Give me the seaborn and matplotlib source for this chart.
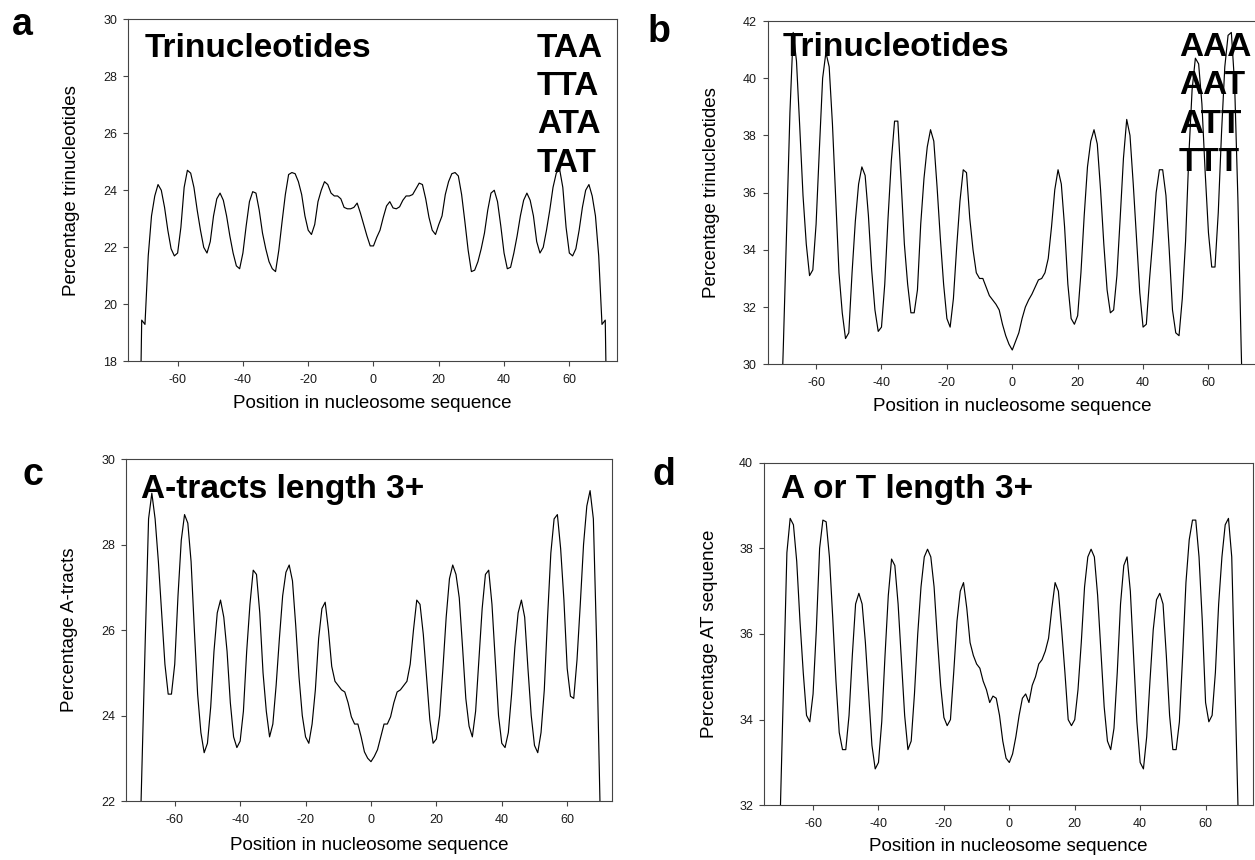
"""Nucleosome positioning profiles: AT-rich trinucleotides and A/T tracts (panels a-d)."""

import matplotlib

matplotlib.use("Agg")
import matplotlib.pyplot as plt  # noqa: E402
import numpy as np  # noqa: E402
import seaborn as sns  # noqa: E402

W, H = 1255, 860

# ---- data (percent per position in nucleosome sequence) --------------------
POS_A = np.arange(-72, 73)
POS_BCD = np.arange(-71, 72)

TRI_TAA = [
    12.0, 19.45, 19.3, 21.7, 23.1, 23.8, 24.2, 24.0, 23.4, 22.6,
    21.95, 21.7, 21.8, 22.7, 24.1, 24.7, 24.6, 24.1, 23.3, 22.6,
    22.0, 21.8, 22.2, 23.1, 23.7, 23.9, 23.65, 23.1, 22.4, 21.8,
    21.35, 21.25, 21.8, 22.75, 23.6, 23.95, 23.9, 23.3, 22.5, 21.95,
    21.5, 21.25, 21.15, 21.9, 22.9, 23.85, 24.55, 24.62, 24.58, 24.3,
    23.85, 23.1, 22.6, 22.45, 22.8, 23.6, 24.0, 24.3, 24.2, 23.9,
    23.8, 23.8, 23.7, 23.4, 23.35, 23.35, 23.4, 23.55, 23.2, 22.8,
    22.4, 22.05, 22.05,
    22.35, 22.6, 23.05, 23.45, 23.6, 23.38, 23.35, 23.42, 23.65, 23.8,
    23.8, 23.85, 24.05, 24.25, 24.2, 23.7, 23.05, 22.6, 22.45, 22.8,
    23.1, 23.85, 24.3, 24.58, 24.62, 24.5, 23.85, 22.9, 21.9, 21.15,
    21.2, 21.5, 21.95, 22.5, 23.3, 23.9, 24.0, 23.6, 22.75, 21.8,
    21.25, 21.3, 21.8, 22.4, 23.1, 23.65, 23.9, 23.65, 23.1, 22.2,
    21.8, 22.0, 22.6, 23.3, 24.1, 24.6, 24.75, 24.1, 22.7, 21.8,
    21.7, 21.95, 22.6, 23.4, 24.0, 24.2, 23.8, 23.1, 21.7, 19.3,
    19.45, 12.0,
]

TRI_AAA = [
    27.0, 30.7, 34.8, 38.8, 41.6, 40.6, 38.3, 35.9, 34.2, 33.1,
    33.3, 34.9, 37.5, 40.0, 40.9, 40.4, 38.4, 35.8, 33.2, 31.8,
    30.9, 31.1, 33.2, 35.0, 36.3, 36.9, 36.6, 35.2, 33.3, 31.9,
    31.15, 31.3, 32.8, 35.1, 37.1, 38.5, 38.5, 36.4, 34.2, 32.8,
    31.8, 31.8, 32.6, 34.9, 36.5, 37.6, 38.2, 37.8, 36.2, 34.4,
    32.8, 31.6, 31.3, 32.3, 34.1, 35.7, 36.8, 36.7, 35.1, 34.0,
    33.2, 33.0, 33.0, 32.7, 32.4, 32.25, 32.1, 31.9, 31.4, 31.0,
    30.7, 30.5,
    30.8, 31.1, 31.6, 32.0, 32.25, 32.45, 32.7, 32.95, 33.0, 33.2,
    33.7, 34.8, 36.1, 36.8, 36.3, 34.8, 32.8, 31.6, 31.4, 31.7,
    33.2, 35.2, 36.9, 37.8, 38.2, 37.7, 36.1, 34.2, 32.6, 31.8,
    31.9, 33.1, 35.1, 37.2, 38.56, 38.0, 36.3, 34.4, 32.5, 31.3,
    31.4, 33.0, 34.4, 36.0, 36.8, 36.8, 35.9, 34.0, 31.9, 31.1,
    31.0, 32.3, 34.3, 37.3, 39.6, 40.7, 40.5, 39.1, 36.7, 34.6,
    33.4, 33.4, 35.3, 38.1, 40.4, 41.5, 41.6, 39.8, 35.8, 30.6,
    26.0,
]

A_TRACTS = [
    19.9, 22.9, 25.8, 28.6, 29.2, 28.6, 27.6, 26.4, 25.2, 24.5,
    24.5, 25.2, 26.8, 28.1, 28.7, 28.5, 27.6, 26.0, 24.5, 23.6,
    23.13, 23.35, 24.2, 25.5, 26.4, 26.7, 26.3, 25.5, 24.3, 23.5,
    23.25, 23.4, 24.1, 25.5, 26.6, 27.4, 27.3, 26.4, 25.0, 24.1,
    23.5, 23.8, 24.7, 25.8, 26.8, 27.35, 27.52, 27.15, 26.1, 24.9,
    24.0, 23.5, 23.35, 23.8, 24.6, 25.8, 26.5, 26.65, 26.0, 25.15,
    24.8, 24.7, 24.6, 24.55, 24.3, 23.97, 23.8, 23.8, 23.5, 23.15,
    23.0, 22.92,
    23.04, 23.2, 23.5, 23.8, 23.8, 23.97, 24.3, 24.55, 24.6, 24.7,
    24.8, 25.2, 26.0, 26.7, 26.6, 25.9, 24.9, 23.9, 23.35, 23.45,
    24.0, 25.1, 26.3, 27.2, 27.52, 27.3, 26.75, 25.6, 24.4, 23.75,
    23.5, 24.1, 25.3, 26.5, 27.3, 27.4, 26.6, 25.3, 24.0, 23.35,
    23.25, 23.6, 24.5, 25.6, 26.4, 26.7, 26.3, 25.1, 24.0, 23.3,
    23.13, 23.6, 24.6, 26.3, 27.8, 28.6, 28.7, 27.9, 26.7, 25.1,
    24.45, 24.4, 25.3, 26.6, 28.0, 28.9, 29.26, 28.6, 25.7, 22.0,
    18.5,
]

AT_TRACTS = [
    28.9, 31.9, 34.9, 37.9, 38.7, 38.55, 37.7, 36.3, 35.1, 34.1,
    33.95, 34.6, 36.1, 38.0, 38.66, 38.62, 37.8, 36.4, 34.9, 33.7,
    33.3, 33.3, 34.1, 35.5, 36.7, 36.95, 36.7, 35.8, 34.6, 33.4,
    32.85, 33.0, 33.95, 35.5, 36.9, 37.75, 37.6, 36.7, 35.4, 34.1,
    33.3, 33.5, 34.6, 36.0, 37.1, 37.8, 37.98, 37.8, 37.1, 35.9,
    34.8, 34.05, 33.86, 34.0, 35.1, 36.3, 37.0, 37.2, 36.6, 35.8,
    35.5, 35.3, 35.2, 34.9, 34.7, 34.4, 34.55, 34.5, 34.1, 33.5,
    33.1, 33.0,
    33.2, 33.6, 34.1, 34.5, 34.6, 34.4, 34.8, 35.0, 35.3, 35.4,
    35.6, 35.9, 36.6, 37.2, 37.0, 36.1, 35.1, 34.0, 33.86, 34.0,
    34.7, 35.8, 37.1, 37.8, 37.98, 37.8, 36.9, 35.6, 34.3, 33.5,
    33.3, 33.8, 35.1, 36.7, 37.6, 37.8, 37.0, 35.5, 33.95, 33.0,
    32.85, 33.6, 34.9, 36.1, 36.8, 36.95, 36.7, 35.5, 34.1, 33.3,
    33.3, 33.95, 35.5, 37.2, 38.2, 38.66, 38.66, 37.8, 36.3, 34.4,
    33.95, 34.1, 35.1, 36.7, 37.8, 38.55, 38.7, 37.8, 34.7, 31.7,
    28.7,
]

CODONS_A = ["TAA", "TTA", "ATA", "TAT"]
CODONS_B = ["AAA", "AAT", "ATT", "TTT"]
XLABEL = "Position in nucleosome sequence"

SPINE = "#444444"


def px_axes(fig, left, right, top, bottom):
    """Axes placed in reference pixel coordinates."""
    return fig.add_axes([left / W, 1 - bottom / H, (right - left) / W, (bottom - top) / H])


def ftext(fig, x, y, s, size=24, **kw):
    fig.text(x / W, 1 - y / H, s, fontsize=size, fontweight="bold",
             va="baseline", ha="left", color="black", **kw)


def panel(ax, pos, vals, xlim, ylim, ylabel, ycoord, xcoord):
    sns.lineplot(x=pos, y=vals, ax=ax, color="black", linewidth=0.85, zorder=5)
    ax.set_xlim(*xlim)
    ax.set_ylim(*ylim)
    ax.set_xticks(np.arange(-60, 61, 20))
    ax.set_yticks(np.arange(ylim[0], ylim[1] + 1, 2))
    ax.set_xlabel(XLABEL, fontsize=13.5, color="black")
    ax.set_ylabel(ylabel, fontsize=13.5, color="black")
    ax.yaxis.set_label_coords(ycoord, 0.5)
    ax.xaxis.set_label_coords(0.5, xcoord)
    ax.tick_params(direction="out", length=3.6, width=0.8, color=SPINE,
                   labelsize=9, labelcolor="#1a1a1a", top=False, right=False)
    ax.tick_params(axis="x", pad=5.5)
    ax.tick_params(axis="y", pad=4.3)
    for sp in ax.spines.values():
        sp.set_color(SPINE)
        sp.set_linewidth(0.8)
        sp.set_visible(True)
    ax.set_facecolor("white")
    ax.grid(False)


def main():
    sns.set_style("ticks")
    plt.rcParams["font.family"] = ["Liberation Sans", "DejaVu Sans"]
    plt.rcParams["axes.unicode_minus"] = False
    plt.rcParams["text.color"] = "black"

    fig = plt.figure(figsize=(W / 100, H / 100), dpi=100)
    fig.patch.set_facecolor("white")

    ax_a = px_axes(fig, 128, 617, 19, 361.5)
    panel(ax_a, POS_A, TRI_TAA, (-75.2, 74.6), (18, 30),
          "Percentage trinucleotides", -0.098, -0.099)

    ax_b = px_axes(fig, 767.7, 1257.5, 21, 364.3)
    panel(ax_b, POS_BCD, TRI_AAA, (-74.8, 75.0), (30, 42),
          "Percentage trinucleotides", -0.097, -0.099)

    ax_c = px_axes(fig, 126, 612, 459, 801)
    panel(ax_c, POS_BCD, A_TRACTS, (-74.9, 73.7), (22, 30),
          "Percentage A-tracts", -0.098, -0.105)

    ax_d = px_axes(fig, 764, 1253, 462.7, 805.3)
    panel(ax_d, POS_BCD, AT_TRACTS, (-75.0, 74.5), (32, 40),
          "Percentage AT sequence", -0.094, -0.096)

    # panel letters
    ftext(fig, 12, 35, "a", size=27)
    ftext(fig, 648, 42, "b", size=27)
    ftext(fig, 22, 485, "c", size=27)
    ftext(fig, 652, 485, "d", size=27)

    # in-panel titles and codon lists
    ftext(fig, 145, 56.7, "Trinucleotides")
    ftext(fig, 782.7, 56, "Trinucleotides")
    for i, (ca, cb) in enumerate(zip(CODONS_A, CODONS_B)):
        ftext(fig, 536.7, 56.7 + 38.3 * i, ca)
        ftext(fig, 1179, 56 + 38.3 * i, cb)
    ftext(fig, 140.7, 498.3, "A-tracts length 3+")
    ftext(fig, 780.7, 498.3, "A or T length 3+")

    fig.savefig("out.png", dpi=100, facecolor="white")
    plt.close(fig)


if __name__ == "__main__":
    main()
